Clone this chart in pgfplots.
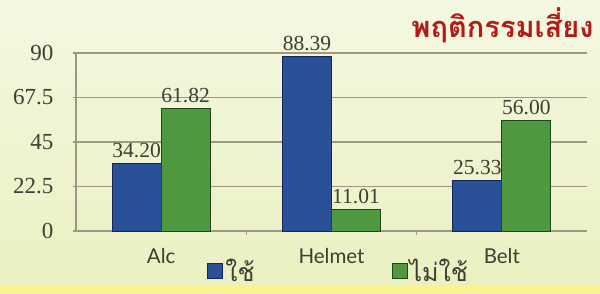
\documentclass[border=0pt]{standalone}
\usepackage{pgfplots}
\pgfplotsset{compat=1.18}
\usepackage{fontspec}
\setmainfont{Liberation Serif}
\newfontfamily\thaifont[Script=Thai]{Loma}
\newfontfamily\catfont{Lato}
\definecolor{barblue}{RGB}{42,80,152}
\definecolor{bluedge}{RGB}{22,36,92}
\definecolor{bargreen}{RGB}{80,152,64}
\definecolor{greenedge}{RGB}{32,70,32}
\definecolor{titlered}{RGB}{178,28,24}
\definecolor{txt}{RGB}{62,62,52}
\definecolor{gridc}{RGB}{160,150,132}
\definecolor{bgtop}{RGB}{244,248,226}
\definecolor{bgbot}{RGB}{234,240,192}
\definecolor{strip}{RGB}{250,242,140}
\begin{document}
\begin{tikzpicture}[x=1pt,y=1pt]
\useasboundingbox (0,0) rectangle (600,293);
\shade[top color=bgtop, bottom color=bgbot] (0,0) rectangle (600,293);
\fill[strip] (0,0) rectangle (600,7);
\begin{axis}[
  at={(76pt,62pt)}, anchor=south west,
  scale only axis, width=511pt, height=178pt,
  ybar=0pt, bar width=49pt,
  xmin=-0.5, xmax=2.5, ymin=0, ymax=90,
  xtick={0,1,2}, xticklabels={Alc,Helmet,Belt},
  minor xtick={0.5,1.5},
  ytick={0,22.5,45,67.5,90},
  /pgf/number format/assume math mode=true,
  axis x line*=bottom, axis y line*=left,
  axis line style={-, draw=gridc, line width=1.2pt},
  ymajorgrids, grid style={gridc, line width=1.2pt},
  tick align=outside,
  xtick style={draw=none},
  minor x tick style={draw=gridc, line width=1pt},
  minor tick length=4pt,
  ytick style={draw=gridc, line width=1.2pt},
  major tick length=3pt,
  yticklabel style={font=\fontsize{23}{23}\selectfont, text=txt, xshift=-16pt},
  xticklabel style={font=\catfont\fontsize{20.5}{20.5}\selectfont, text=txt, yshift=-11pt},
  nodes near coords={\pgfmathprintnumber[fixed,fixed zerofill,precision=2]{\pgfplotspointmeta}},
  every node near coord/.append style={font=\fontsize{21.5}{21.5}\selectfont, text=txt, yshift=2pt},
  legend style={at={(0.514,-0.223)}, anchor=center, draw=none, fill=none,
    legend columns=2, font=\thaifont\fontsize{25}{25}\selectfont, text=txt,
    nodes={inner xsep=2pt},
    /tikz/every even column/.append style={column sep=135pt}},
  legend image code/.code={\draw[#1] (0pt,-7.5pt) rectangle (15pt,7.5pt);},
]
\addplot[fill=barblue, draw=bluedge, line width=1pt] coordinates {(0,34.20) (1,88.39) (2,25.33)};
\addplot[fill=bargreen, draw=greenedge, line width=1pt] coordinates {(0,61.82) (1,11.01) (2,56.00)};
\legend{ใช้,ไม่ใช้}
\end{axis}
\node[text=titlered, font=\thaifont\bfseries\fontsize{29}{29}\selectfont] at (502.5,268) {พฤติกรรมเสี่ยง};
\end{tikzpicture}
\end{document}
